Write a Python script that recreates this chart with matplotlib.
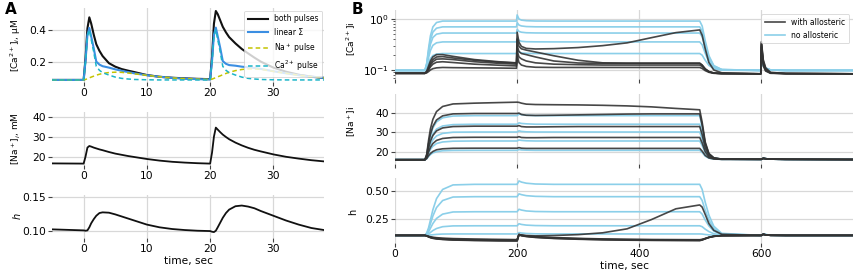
import matplotlib
matplotlib.use("Agg")
import matplotlib.pyplot as plt
from matplotlib.ticker import NullFormatter, FormatStrFormatter

# ---------------- Panel A data ----------------
tA = [-5, 0, 0.3, 0.6, 0.9, 1.2, 1.6, 2.0, 2.5, 3, 4, 5, 6, 7, 8, 10, 12, 14, 16, 18, 20,
      20.3, 20.6, 20.9, 21.2, 21.6, 22, 22.5, 23, 24, 25, 26, 27, 28, 30, 32, 34, 36, 38]
ca_both = [0.084, 0.084, 0.22, 0.41, 0.48, 0.44, 0.37, 0.31, 0.268, 0.235, 0.19, 0.168, 0.153, 0.143, 0.134,
           0.115, 0.104, 0.098, 0.094, 0.091, 0.089,
           0.23, 0.44, 0.52, 0.5, 0.46, 0.42, 0.385, 0.355, 0.315, 0.28, 0.252, 0.225, 0.2, 0.162,
           0.136, 0.117, 0.105, 0.097]
ca_linear = [0.084, 0.084, 0.203, 0.368, 0.413, 0.358, 0.284, 0.2, 0.181, 0.171, 0.162, 0.151, 0.142, 0.134,
             0.126, 0.114, 0.104, 0.097, 0.092, 0.089, 0.087,
             0.205, 0.37, 0.415, 0.36, 0.286, 0.203, 0.186, 0.178, 0.174, 0.168, 0.164, 0.16, 0.154,
             0.139, 0.126, 0.114, 0.104, 0.097]
ca_na_pulse = [0.084, 0.084, 0.087, 0.092, 0.097, 0.102, 0.108, 0.114, 0.12, 0.125, 0.131, 0.133, 0.132,
               0.128, 0.123, 0.113, 0.104, 0.097, 0.092, 0.089, 0.087,
               0.089, 0.094, 0.099, 0.104, 0.11, 0.117, 0.125, 0.132, 0.143, 0.15, 0.154, 0.154, 0.151,
               0.138, 0.126, 0.114, 0.104, 0.097]
ca_ca_pulse = [0.084, 0.084, 0.2, 0.36, 0.40, 0.34, 0.26, 0.17, 0.145, 0.13, 0.115, 0.102, 0.094, 0.09,
               0.087, 0.085, 0.084, 0.084, 0.084, 0.084, 0.084,
               0.2, 0.36, 0.40, 0.34, 0.26, 0.17, 0.145, 0.13, 0.115, 0.102, 0.094, 0.09, 0.087,
               0.085, 0.084, 0.084, 0.084, 0.084]
na_A = [16.6, 16.5, 20.0, 24.5, 25.3, 25.0, 24.5, 24.1, 23.6, 23.2, 22.3, 21.5, 20.9, 20.3, 19.8, 18.8,
        18.0, 17.4, 17.0, 16.7, 16.5,
        22.0, 30.0, 34.5, 33.5, 32.2, 31.0, 29.8, 28.7, 27.0, 25.6, 24.4, 23.4, 22.6, 21.1, 19.9,
        19.0, 18.2, 17.6]
h_A = [0.102, 0.1005, 0.1, 0.1005, 0.105, 0.111, 0.117, 0.122, 0.126, 0.127, 0.1265, 0.124, 0.121,
       0.118, 0.115, 0.109, 0.105, 0.1025, 0.101, 0.1, 0.0995,
       0.0985, 0.098, 0.1, 0.105, 0.112, 0.119, 0.126, 0.131, 0.136, 0.137, 0.1355, 0.133, 0.129,
       0.122, 0.115, 0.109, 0.104, 0.101]

# ---------------- Panel B data ----------------
tB = [0, 49, 52, 55, 58, 62, 68, 78, 95, 130, 170, 199, 200, 203, 207, 215, 230, 260, 300, 340,
      380, 420, 460, 499, 503, 508, 514, 522, 535, 599, 600, 603, 607, 615, 640, 750]

ca_noallo_1 = [0.098, 0.098, 0.137, 0.267, 0.467, 0.697, 0.852, 0.91, 0.91, 0.91, 0.91, 0.91, 1.2, 1.0, 0.95, 0.925, 0.912, 0.91, 0.91, 0.91, 0.91, 0.91, 0.91, 0.91, 0.728, 0.373, 0.191, 0.122, 0.102, 0.098, 0.16, 0.13, 0.11, 0.1, 0.098, 0.098]
ca_noallo_2 = [0.098, 0.098, 0.132, 0.237, 0.388, 0.553, 0.66, 0.70, 0.70, 0.70, 0.70, 0.70, 0.85, 0.76, 0.73, 0.71, 0.702, 0.70, 0.70, 0.70, 0.70, 0.70, 0.70, 0.70, 0.575, 0.319, 0.177, 0.119, 0.102, 0.098, 0.155, 0.128, 0.108, 0.1, 0.098, 0.098]
ca_noallo_3 = [0.098, 0.098, 0.126, 0.209, 0.319, 0.433, 0.504, 0.53, 0.53, 0.53, 0.53, 0.53, 0.63, 0.57, 0.55, 0.537, 0.532, 0.53, 0.53, 0.53, 0.53, 0.53, 0.53, 0.53, 0.448, 0.27, 0.163, 0.116, 0.101, 0.098, 0.15, 0.125, 0.107, 0.1, 0.098, 0.098]
ca_noallo_4 = [0.098, 0.098, 0.119, 0.175, 0.241, 0.304, 0.341, 0.355, 0.355, 0.355, 0.355, 0.355, 0.42, 0.38, 0.365, 0.358, 0.356, 0.355, 0.355, 0.355, 0.355, 0.355, 0.355, 0.355, 0.312, 0.212, 0.144, 0.111, 0.1, 0.098, 0.145, 0.122, 0.106, 0.1, 0.098, 0.098]
ca_noallo_5 = [0.098, 0.098, 0.110, 0.138, 0.167, 0.192, 0.205, 0.21, 0.21, 0.21, 0.21, 0.21, 0.25, 0.225, 0.216, 0.212, 0.21, 0.21, 0.21, 0.21, 0.21, 0.21, 0.21, 0.21, 0.195, 0.155, 0.123, 0.106, 0.099, 0.098, 0.14, 0.12, 0.105, 0.099, 0.098, 0.098]

ca_allo_1 = [0.086, 0.086, 0.095, 0.12, 0.15, 0.18, 0.2, 0.2, 0.185, 0.16, 0.145, 0.138, 0.55, 0.35, 0.29, 0.265, 0.258, 0.262, 0.275, 0.30, 0.34, 0.43, 0.54, 0.61, 0.48, 0.26, 0.14, 0.1, 0.088, 0.084, 0.36, 0.16, 0.11, 0.09, 0.085, 0.084]
ca_allo_2 = [0.086, 0.086, 0.093, 0.11, 0.135, 0.16, 0.18, 0.183, 0.172, 0.155, 0.142, 0.137, 0.40, 0.29, 0.26, 0.245, 0.225, 0.19, 0.155, 0.138, 0.136, 0.136, 0.136, 0.136, 0.125, 0.105, 0.093, 0.087, 0.085, 0.084, 0.34, 0.15, 0.105, 0.088, 0.085, 0.084]
ca_allo_3 = [0.086, 0.086, 0.092, 0.105, 0.125, 0.145, 0.163, 0.165, 0.16, 0.145, 0.135, 0.13, 0.30, 0.23, 0.21, 0.20, 0.18, 0.15, 0.137, 0.135, 0.135, 0.135, 0.135, 0.135, 0.124, 0.105, 0.093, 0.087, 0.085, 0.084, 0.32, 0.14, 0.1, 0.087, 0.085, 0.084]
ca_allo_4 = [0.086, 0.086, 0.09, 0.1, 0.115, 0.13, 0.142, 0.145, 0.14, 0.13, 0.124, 0.12, 0.24, 0.18, 0.165, 0.15, 0.138, 0.13, 0.127, 0.125, 0.125, 0.125, 0.125, 0.125, 0.117, 0.102, 0.092, 0.087, 0.085, 0.084, 0.30, 0.13, 0.098, 0.087, 0.085, 0.084]
ca_allo_5 = [0.086, 0.086, 0.088, 0.093, 0.1, 0.106, 0.11, 0.112, 0.111, 0.11, 0.109, 0.108, 0.2, 0.14, 0.125, 0.117, 0.113, 0.112, 0.112, 0.112, 0.112, 0.112, 0.112, 0.112, 0.107, 0.097, 0.09, 0.086, 0.085, 0.084, 0.28, 0.12, 0.095, 0.086, 0.085, 0.084]

na_noallo_1 = [15.8, 15.8, 18.1, 23.7, 28.2, 32.1, 35.2, 37.3, 38.2, 38.4, 38.4, 38.4, 38.4, 39.2, 38.9, 38.6, 38.4, 38.4, 38.4, 38.4, 38.4, 38.4, 38.4, 38.4, 32.8, 23.8, 18.7, 16.7, 16.1, 16.0, 16.0, 16.5, 16.3, 16.1, 16.0, 15.9]
na_noallo_2 = [15.8, 15.8, 17.6, 22.2, 25.8, 28.9, 31.5, 33.1, 33.8, 34.0, 34.0, 34.0, 34.0, 34.7, 34.4, 34.2, 34.0, 34.0, 34.0, 34.0, 34.0, 34.0, 34.0, 34.0, 29.5, 22.3, 18.2, 16.5, 16.1, 16.0, 16.0, 16.5, 16.3, 16.1, 16.0, 15.9]
na_noallo_3 = [15.8, 15.8, 17.2, 20.8, 23.6, 26.0, 28.0, 29.3, 29.9, 30.0, 30.0, 30.0, 30.0, 30.6, 30.3, 30.1, 30.0, 30.0, 30.0, 30.0, 30.0, 30.0, 30.0, 30.0, 26.5, 20.9, 17.7, 16.4, 16.1, 16.0, 16.0, 16.5, 16.3, 16.1, 16.0, 15.9]
na_noallo_4 = [15.8, 15.8, 16.8, 19.2, 21.1, 22.7, 24.1, 24.9, 25.3, 25.4, 25.4, 25.4, 25.4, 25.9, 25.7, 25.5, 25.4, 25.4, 25.4, 25.4, 25.4, 25.4, 25.4, 25.4, 23.1, 19.3, 17.1, 16.3, 16.0, 16.0, 16.0, 16.5, 16.3, 16.1, 16.0, 15.9]
na_noallo_5 = [15.8, 15.8, 16.3, 17.5, 18.4, 19.3, 19.9, 20.4, 20.55, 20.6, 20.6, 20.6, 20.6, 21.0, 20.8, 20.7, 20.6, 20.6, 20.6, 20.6, 20.6, 20.6, 20.6, 20.6, 19.5, 17.6, 16.6, 16.1, 16.0, 16.0, 16.0, 16.5, 16.3, 16.1, 16.0, 15.9]

na_allo_1 = [15.8, 15.8, 18.7, 25.8, 31.6, 36.5, 40.5, 43.1, 44.4, 44.8, 45.1, 45.3, 45.3, 45.2, 44.8, 44.3, 44.1, 44.0, 43.9, 43.7, 43.4, 42.9, 42.1, 41.4, 35.0, 24.9, 19.0, 16.8, 16.1, 16.0, 16.0, 16.5, 16.3, 16.1, 16.0, 15.9]
na_allo_2 = [15.8, 15.8, 18.2, 24.1, 28.8, 32.9, 36.2, 38.3, 39.3, 39.5, 39.5, 39.5, 39.5, 39.7, 39.0, 38.6, 38.5, 38.6, 38.8, 39.0, 39.2, 39.3, 39.3, 39.3, 33.5, 24.2, 18.8, 16.7, 16.1, 16.0, 16.0, 16.5, 16.3, 16.1, 16.0, 15.9]
na_allo_3 = [15.8, 15.8, 17.5, 21.8, 25.3, 28.2, 30.6, 32.1, 32.8, 33.0, 33.0, 33.0, 33.0, 33.3, 32.8, 32.6, 32.6, 32.7, 32.8, 32.8, 32.8, 32.8, 32.8, 32.8, 28.6, 21.9, 18.0, 16.5, 16.1, 16.0, 16.0, 16.5, 16.3, 16.1, 16.0, 15.9]
na_allo_4 = [15.8, 15.8, 17.0, 19.8, 22.1, 24.1, 25.7, 26.7, 27.2, 27.3, 27.3, 27.3, 27.3, 27.6, 27.2, 27.1, 27.1, 27.2, 27.2, 27.2, 27.2, 27.2, 27.2, 27.2, 24.4, 19.9, 17.3, 16.3, 16.0, 16.0, 16.0, 16.5, 16.3, 16.1, 16.0, 15.9]
na_allo_5 = [15.8, 15.8, 16.4, 17.9, 19.0, 20.0, 20.9, 21.4, 21.65, 21.7, 21.7, 21.7, 21.7, 22.0, 21.7, 21.6, 21.6, 21.6, 21.6, 21.6, 21.6, 21.6, 21.6, 21.6, 20.2, 18.0, 16.7, 16.2, 16.0, 16.0, 16.0, 16.5, 16.3, 16.1, 16.0, 15.9]

h_noallo_1 = [0.105, 0.105, 0.128, 0.173, 0.24, 0.331, 0.43, 0.511, 0.551, 0.556, 0.556, 0.556, 0.556, 0.586, 0.576, 0.566, 0.559, 0.556, 0.556, 0.556, 0.556, 0.556, 0.556, 0.556, 0.511, 0.398, 0.285, 0.186, 0.123, 0.105, 0.105, 0.118, 0.113, 0.108, 0.105, 0.105]
h_noallo_2 = [0.105, 0.105, 0.122, 0.156, 0.208, 0.276, 0.351, 0.413, 0.444, 0.447, 0.447, 0.447, 0.447, 0.472, 0.465, 0.456, 0.45, 0.447, 0.447, 0.447, 0.447, 0.447, 0.447, 0.447, 0.413, 0.327, 0.242, 0.167, 0.119, 0.105, 0.105, 0.117, 0.112, 0.107, 0.105, 0.105]
h_noallo_3 = [0.105, 0.105, 0.115, 0.136, 0.168, 0.21, 0.255, 0.293, 0.312, 0.314, 0.314, 0.314, 0.314, 0.336, 0.329, 0.321, 0.316, 0.314, 0.314, 0.314, 0.314, 0.314, 0.314, 0.314, 0.293, 0.241, 0.189, 0.143, 0.113, 0.105, 0.105, 0.116, 0.111, 0.107, 0.105, 0.105]
h_noallo_4 = [0.105, 0.105, 0.109, 0.118, 0.131, 0.148, 0.166, 0.182, 0.189, 0.19, 0.19, 0.19, 0.19, 0.208, 0.202, 0.196, 0.192, 0.19, 0.19, 0.19, 0.19, 0.19, 0.19, 0.19, 0.182, 0.16, 0.139, 0.12, 0.108, 0.105, 0.105, 0.115, 0.11, 0.106, 0.105, 0.105]
h_noallo_5 = [0.105, 0.105, 0.106, 0.107, 0.109, 0.111, 0.114, 0.117, 0.118, 0.118, 0.118, 0.118, 0.118, 0.13, 0.126, 0.122, 0.119, 0.118, 0.118, 0.118, 0.118, 0.118, 0.118, 0.118, 0.117, 0.113, 0.11, 0.107, 0.105, 0.105, 0.105, 0.114, 0.11, 0.106, 0.105, 0.105]

h_allo_1 = [0.105, 0.105, 0.102, 0.097, 0.093, 0.089, 0.085, 0.081, 0.077, 0.073, 0.07, 0.068, 0.068, 0.112, 0.108, 0.104, 0.101, 0.104, 0.112, 0.128, 0.163, 0.245, 0.34, 0.374, 0.355, 0.29, 0.21, 0.15, 0.115, 0.105, 0.105, 0.115, 0.11, 0.106, 0.105, 0.105]
h_allo_2 = [0.105, 0.105, 0.101, 0.095, 0.09, 0.085, 0.08, 0.076, 0.072, 0.068, 0.065, 0.064, 0.064, 0.114, 0.108, 0.101, 0.094, 0.086, 0.079, 0.074, 0.071, 0.069, 0.068, 0.067, 0.07, 0.078, 0.088, 0.097, 0.103, 0.105, 0.105, 0.115, 0.11, 0.106, 0.105, 0.105]
h_allo_3 = [0.105, 0.105, 0.101, 0.094, 0.088, 0.083, 0.078, 0.073, 0.069, 0.065, 0.062, 0.061, 0.061, 0.113, 0.106, 0.099, 0.091, 0.083, 0.076, 0.071, 0.068, 0.066, 0.065, 0.064, 0.068, 0.077, 0.088, 0.097, 0.103, 0.105, 0.105, 0.115, 0.11, 0.106, 0.105, 0.105]
h_allo_4 = [0.105, 0.105, 0.1, 0.093, 0.087, 0.081, 0.076, 0.071, 0.066, 0.062, 0.059, 0.058, 0.058, 0.112, 0.104, 0.097, 0.089, 0.08, 0.073, 0.068, 0.065, 0.063, 0.062, 0.061, 0.066, 0.076, 0.087, 0.097, 0.103, 0.105, 0.105, 0.115, 0.11, 0.106, 0.105, 0.105]
h_allo_5 = [0.105, 0.105, 0.1, 0.092, 0.085, 0.079, 0.074, 0.069, 0.064, 0.06, 0.057, 0.056, 0.056, 0.11, 0.102, 0.095, 0.087, 0.078, 0.071, 0.066, 0.063, 0.061, 0.06, 0.059, 0.064, 0.075, 0.087, 0.097, 0.103, 0.105, 0.105, 0.115, 0.11, 0.106, 0.105, 0.105]

ticksA = [0, 10, 20, 30]
ticksB = [0, 200, 400, 600]

# ---------------- styling ----------------
W, H = 856, 276
plt.rcParams['font.family'] = ['DejaVu Sans']
fig = plt.figure(figsize=(W / 100, H / 100), dpi=100)


def box(l, t, r, b):
    return [l / W, 1 - b / H, (r - l) / W, (b - t) / H]


GRID = '#d8d8d8'
TICKFS = 7.7


def style(ax):
    for s in ax.spines.values():
        s.set_visible(False)
    ax.grid(True, color=GRID, lw=0.9)
    ax.set_axisbelow(True)
    ax.tick_params(axis='both', which='major', length=3, width=0.8, color='#444444',
                   labelsize=TICKFS, pad=1.5)
    ax.tick_params(axis='both', which='minor', length=1.8, width=0.6, color='#444444')


BLACK = '#111111'
LIN = '#3b8ee2'
YEL = '#c4c400'
CYA = '#1cb5c8'

# Panel A
axA1 = fig.add_axes(box(52, 8, 324, 82))
axA2 = fig.add_axes(box(52, 112, 324, 165))
axA3 = fig.add_axes(box(52, 195, 324, 238))

axA1.plot(tA, ca_both, color=BLACK, lw=1.5, label='both pulses')
axA1.plot(tA, ca_linear, color=LIN, lw=1.5, label='linear Σ')
axA1.plot(tA, ca_na_pulse, color=YEL, lw=1.1, ls='--', dashes=(3, 2), label='Na$^+$ pulse')
axA1.plot(tA, ca_ca_pulse, color=CYA, lw=1.1, ls='--', dashes=(3, 2), label='Ca$^{2+}$ pulse')
axA1.set_ylim(0.071, 0.539)
axA1.set_yticks([0.2, 0.4])
axA1.set_ylabel('[Ca$^{2+}$]$_i$, μM', fontsize=6.5)
leg = axA1.legend(loc='upper right', bbox_to_anchor=(1.0, 0.985), fontsize=5.5, frameon=True,
                  borderaxespad=0.2, handlelength=2.6, labelspacing=0.55, borderpad=0.5)
leg.get_frame().set_edgecolor('#cccccc')
leg.get_frame().set_linewidth(0.6)

axA2.plot(tA, na_A, color=BLACK, lw=1.3)
axA2.set_ylim(15.8, 42.3)
axA2.set_yticks([20, 30, 40])
axA2.set_ylabel('[Na$^+$]$_i$, mM', fontsize=6.5)

axA3.plot(tA, h_A, color=BLACK, lw=1.3)
axA3.set_ylim(0.0893, 0.1525)
axA3.set_yticks([0.10, 0.15])
axA3.yaxis.set_major_formatter(FormatStrFormatter('%.2f'))
axA3.set_ylabel('$h$', fontsize=7)
axA3.set_xlabel('time, sec', fontsize=7.7, labelpad=1)

for ax in (axA1, axA2, axA3):
    ax.set_xlim(-5, 38)
    ax.set_xticks(ticksA)
    style(ax)
    ax.yaxis.set_label_coords((23 - 52) / 272, 0.5)

# Panel B
axB1 = fig.add_axes(box(395, 10, 853, 79))
axB2 = fig.add_axes(box(395, 94, 853, 164))
axB3 = fig.add_axes(box(395, 178, 853, 243))

SKY = '#8bcfe9'
DARK = '#333333'

noallo_ca = [ca_noallo_1, ca_noallo_2, ca_noallo_3, ca_noallo_4, ca_noallo_5]
allo_ca = [ca_allo_1, ca_allo_2, ca_allo_3, ca_allo_4, ca_allo_5]
noallo_na = [na_noallo_1, na_noallo_2, na_noallo_3, na_noallo_4, na_noallo_5]
allo_na = [na_allo_1, na_allo_2, na_allo_3, na_allo_4, na_allo_5]
noallo_h = [h_noallo_1, h_noallo_2, h_noallo_3, h_noallo_4, h_noallo_5]
allo_h = [h_allo_1, h_allo_2, h_allo_3, h_allo_4, h_allo_5]

for ax, blues, blacks in ((axB1, noallo_ca, allo_ca), (axB2, noallo_na, allo_na),
                          (axB3, noallo_h, allo_h)):
    for i, y in enumerate(blues):
        ax.plot(tB, y, color=SKY, lw=1.2, label='no allosteric' if i == 0 else None, zorder=2)
    for i, y in enumerate(blacks):
        ax.plot(tB, y, color=DARK, lw=1.2, alpha=0.9, label='with allosteric' if i == 0 else None,
                zorder=3)

axB1.set_yscale('log')
axB1.set_ylim(0.0665, 1.5)
axB1.set_yticks([0.1, 1.0])
axB1.yaxis.set_minor_formatter(NullFormatter())
axB1.set_ylabel('[Ca$^{2+}$]i', fontsize=6.5)
handles, labels = axB1.get_legend_handles_labels()
order = [labels.index('with allosteric'), labels.index('no allosteric')]
legB = axB1.legend([handles[k] for k in order], [labels[k] for k in order], loc='upper right',
                   bbox_to_anchor=(0.995, 0.96), fontsize=5.5, frameon=True, borderaxespad=0.2,
                   handlelength=2.6, labelspacing=0.45, borderpad=0.5)
legB.get_frame().set_edgecolor('#cccccc')
legB.get_frame().set_linewidth(0.6)

axB2.set_ylim(13.6, 49.5)
axB2.set_yticks([20, 30, 40])
axB2.set_ylabel('[Na$^+$]i', fontsize=6.5)

axB3.set_ylim(0.038, 0.612)
axB3.set_yticks([0.25, 0.50])
axB3.yaxis.set_major_formatter(FormatStrFormatter('%.2f'))
axB3.set_ylabel('h', fontsize=7)
axB3.set_xlabel('time, sec', fontsize=7.7, labelpad=1)

for ax in (axB1, axB2, axB3):
    ax.set_xlim(0, 750)
    ax.set_xticks(ticksB)
    style(ax)
lx = (358 - 395) / 458
axB1.yaxis.set_label_coords(lx, (79 - 39) / 69)
axB2.yaxis.set_label_coords(lx, (164 - 121) / 70)
axB3.yaxis.set_label_coords(lx, (243 - 212) / 65)
axB1.tick_params(axis='x', labelbottom=False)
axB2.tick_params(axis='x', labelbottom=False)

fig.text(11 / W, 1 - 10 / H, 'A', fontsize=11, fontweight='bold', va='center', ha='center')
fig.text(357 / W, 1 - 9 / H, 'B', fontsize=11, fontweight='bold', va='center', ha='center')

fig.savefig('out.png', dpi=100)
